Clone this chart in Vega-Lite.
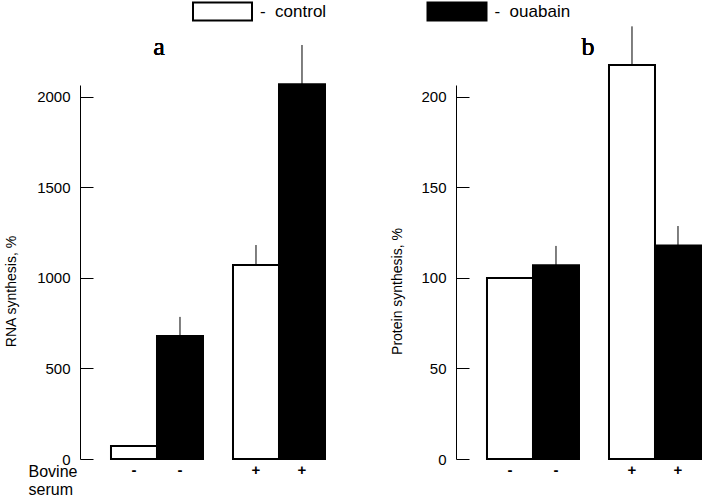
{
  "$schema": "https://vega.github.io/schema/vega-lite/v6.json",
  "padding": {"left": 4, "top": 0, "right": 0, "bottom": 0},
  "background": "white",
  "datasets": {
    "a": [
      {"serum": "-", "treat": "control", "value": 72, "upper": 72},
      {"serum": "-", "treat": "ouabain", "value": 680, "upper": 785},
      {"serum": "+", "treat": "control", "value": 1072, "upper": 1182},
      {"serum": "+", "treat": "ouabain", "value": 2070, "upper": 2287}
    ],
    "b": [
      {"serum": "-", "treat": "control", "value": 100, "upper": 100},
      {"serum": "-", "treat": "ouabain", "value": 107, "upper": 117.7},
      {"serum": "+", "treat": "control", "value": 217.7, "upper": 239},
      {"serum": "+", "treat": "ouabain", "value": 118, "upper": 128.7}
    ]
  },
  "config": {
    "view": {"stroke": null},
    "font": "Liberation Sans",
    "axis": {"grid": false, "domainColor": "black", "tickColor": "black", "labelColor": "black", "titleColor": "black", "labelFont": "Liberation Sans", "titleFont": "Liberation Sans"}
  },
  "spacing": 60,
  "hconcat": [
    {
      "width": 250,
      "height": 374,
      "data": {"name": "a"},
      "encoding": {
        "x": {"field": "serum", "type": "nominal", "sort": ["-", "+"],
          "scale": {"paddingInner": 0.2459, "paddingOuter": 0.1475, "align": 0.861},
          "axis": {"labels": false, "ticks": false, "domain": false, "title": ["Bovine", "serum"], "titleX": -52, "titleY": 4, "titleAlign": "left", "titleBaseline": "top", "titleAngle": 0, "titleFontSize": 16, "titleFontWeight": "normal", "titleLineHeight": 18, "titleColor": "black"}},
        "xOffset": {"field": "treat", "type": "nominal", "sort": ["control", "ouabain"], "scale": {"paddingInner": 0, "paddingOuter": 0}}
      },
      "layer": [
        {
          "mark": {"type": "bar", "stroke": "black", "strokeWidth": 2},
          "encoding": {
            "y": {"field": "value", "type": "quantitative", "scale": {"domain": [0, 2066], "nice": false, "zero": true},
              "axis": {"title": "RNA synthesis, %", "values": [0, 500, 1000, 1500, 2000], "format": "d", "tickSize": -13, "labelPadding": 23, "labelFontSize": 15, "titleFontSize": 14, "titleFontWeight": "normal", "titlePadding": 18, "titleY": 206}},
            "fill": {"field": "treat", "type": "nominal", "scale": {"domain": ["control", "ouabain"], "range": ["white", "black"]},
              "legend": {"title": null, "orient": "none", "legendX": 131.5, "legendY": -84.5, "direction": "horizontal",
                "symbolType": "M-2.95,-0.9L2.95,-0.9L2.95,0.9L-2.95,0.9Z", "symbolSize": 400, "symbolStrokeColor": "black", "symbolStrokeWidth": 2,
                "labelFontSize": 17, "labelColor": "black", "labelOffset": 26.5, "columnPadding": 96.5, "labelExpr": "'- \u00a0' + datum.label"}}
          }
        },
        {
          "mark": {"type": "rule", "color": "black", "strokeWidth": 1},
          "encoding": {"y": {"field": "value", "type": "quantitative"}, "y2": {"field": "upper"}}
        },
        {
          "mark": {"type": "text", "dy": 11, "baseline": "middle", "fontWeight": "bold", "fontSize": 15, "color": "black"},
          "encoding": {"y": {"datum": 0, "type": "quantitative"}, "text": {"field": "serum"}}
        },
        {
          "mark": {"type": "text", "font": "Liberation Serif", "fontSize": 26, "fontWeight": "normal", "baseline": "alphabetic", "color": "black"},
          "encoding": {"x": {"datum": "-"}, "xOffset": {"value": 48}, "y": {"datum": 2232, "type": "quantitative"}, "text": {"value": "a"}}
        }
      ]
    },
    {
      "width": 250,
      "height": 374,
      "data": {"name": "b"},
      "encoding": {
        "x": {"field": "serum", "type": "nominal", "sort": ["-", "+"],
          "scale": {"paddingInner": 0.2459, "paddingOuter": 0.1475, "align": 0.861},
          "axis": null},
        "xOffset": {"field": "treat", "type": "nominal", "sort": ["control", "ouabain"], "scale": {"paddingInner": 0, "paddingOuter": 0}}
      },
      "layer": [
        {
          "mark": {"type": "bar", "stroke": "black", "strokeWidth": 2},
          "encoding": {
            "y": {"field": "value", "type": "quantitative", "scale": {"domain": [0, 206.6], "nice": false, "zero": true},
              "axis": {"title": "Protein synthesis, %", "values": [0, 50, 100, 150, 200], "tickSize": -13, "labelPadding": 23, "labelFontSize": 15, "titleFontSize": 14, "titleFontWeight": "normal", "titlePadding": 16, "titleY": 206}},
            "fill": {"field": "treat", "type": "nominal", "scale": {"domain": ["control", "ouabain"], "range": ["white", "black"]},
              "legend": {"title": null, "orient": "none", "legendX": 131.5, "legendY": -84.5, "direction": "horizontal",
                "symbolType": "M-2.95,-0.9L2.95,-0.9L2.95,0.9L-2.95,0.9Z", "symbolSize": 400, "symbolStrokeColor": "black", "symbolStrokeWidth": 2,
                "labelFontSize": 17, "labelColor": "black", "labelOffset": 26.5, "columnPadding": 96.5, "labelExpr": "'- \u00a0' + datum.label"}}
          }
        },
        {
          "mark": {"type": "rule", "color": "black", "strokeWidth": 1},
          "encoding": {"y": {"field": "value", "type": "quantitative"}, "y2": {"field": "upper"}}
        },
        {
          "mark": {"type": "text", "dy": 11, "baseline": "middle", "fontWeight": "bold", "fontSize": 15, "color": "black"},
          "encoding": {"y": {"datum": 0, "type": "quantitative"}, "text": {"field": "serum"}}
        },
        {
          "mark": {"type": "text", "font": "Liberation Serif", "fontSize": 26, "fontWeight": "normal", "baseline": "alphabetic", "color": "black"},
          "encoding": {"x": {"datum": "-"}, "xOffset": {"value": 101}, "y": {"datum": 223, "type": "quantitative"}, "text": {"value": "b"}}
        }
      ]
    }
  ]
}
